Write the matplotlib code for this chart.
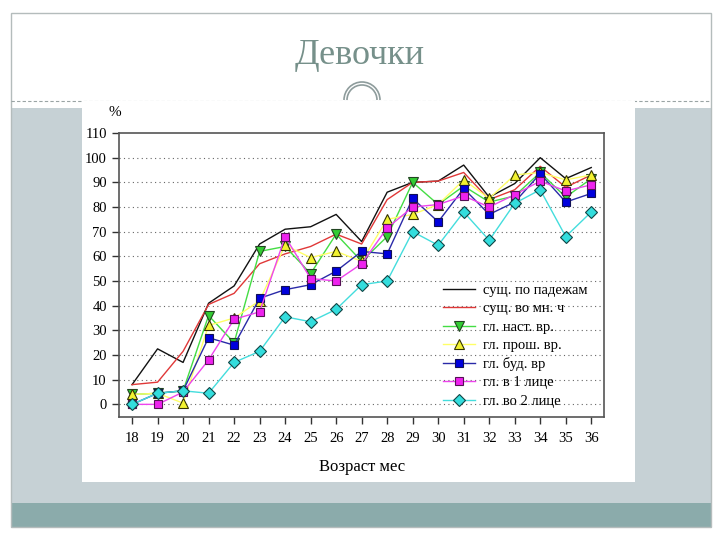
import matplotlib.pyplot as plt
from matplotlib.patches import Rectangle, Arc
from matplotlib.lines import Line2D

# months of age
months = list(range(18, 37))

# series values, %
nouns_cases = [8, 22.5, 17, 41, 48, 65, 71, 72, 77, 66, 86, 90, 90.5, 97, 84, 89.5, 100, 91.5, 96]
nouns_plural = [8, 9, 21.5, 40.5, 45, 57, 61, 64, 69, 65, 83, 90, 90.5, 94, 83, 87, 96.5, 88, 93]
verbs_present = [4, 4.5, 5.5, 36, 25, 62, 64, 53, 69, 58, 68, 90, 81, 88.5, 82, 84.5, 94, 84, 91.5]
verbs_past = [4, 4.5, 0.5, 32, 35, 42, 64.5, 59.5, 62, 58, 75, 77, 81, 91, 83.5, 93, 94, 91, 93]
verbs_future = [0, 4.5, 5.5, 27, 24, 43, 46.5, 48.5, 54, 62, 61, 83.5, 74, 87.5, 77, 82, 93.5, 82, 85.5]
verbs_1st = [0, 0, 5, 18, 34.5, 37.5, 68, 51, 50, 57, 71.5, 80, 81, 84.5, 80, 85, 90.5, 86.5, 89]
verbs_2nd = [0, 4.5, 5.5, 4.5, 17, 21.5, 35.5, 33.5, 38.5, 48.5, 50, 70, 64.5, 78, 66.5, 81.5, 87, 68, 78]

labels = ['сущ. по падежам', 'сущ. во мн. ч', 'гл. наст. вр.', 'гл. прош. вр.',
          'гл. буд. вр', 'гл. в 1 лице', 'гл. во 2 лице']

W, H = 720, 540
fig = plt.figure(figsize=(7.2, 5.4), dpi=100)
fig.patch.set_facecolor('white')


def box(x0, y0, x1, y1, **kw):
    # rectangle given in pixel coords (top-left origin)
    r = Rectangle((x0 / W, 1 - y1 / H), (x1 - x0) / W, (y1 - y0) / H,
                  transform=fig.transFigure, zorder=0, **kw)
    fig.add_artist(r)


# slide background
box(11, 108, 711, 504, facecolor='#c6d1d5', edgecolor='none')
box(11, 503, 711, 527, facecolor='#8babab', edgecolor='none')
box(11, 13, 711, 527, facecolor='none', edgecolor='#b4bcbc', linewidth=1)
fig.add_artist(Line2D([11 / W, 711 / W], [1 - 101 / H] * 2, transform=fig.transFigure,
                      color='#9aa4a4', linestyle=(0, (3, 2)), linewidth=0.8, zorder=0))
box(82, 101, 635, 482, facecolor='white', edgecolor='none')

fig.text(360 / W, 1 - 56 / H, 'Девочки', ha='center', va='center',
         family='Liberation Serif', fontsize=26, color='#76908a')
for r in (18, 15):
    fig.add_artist(Arc((362 / W, 1 - 100 / H), 2 * r / W, 2 * r / H, theta1=0, theta2=180,
                       transform=fig.transFigure, color='#8e9c9c', linewidth=1.2))

ax = fig.add_axes([119.3 / W, 1 - 416.7 / H, (604 - 119.3) / W, (416.7 - 133) / H])
ax.set_zorder(5)
ax.set_facecolor('white')

ax.plot(months, nouns_cases, color='#111111', lw=1.0, label=labels[0])
ax.plot(months, nouns_plural, color='#e03838', lw=1.0, label=labels[1])
ax.plot(months, verbs_present, color='#44dd44', lw=1.0, marker='v', ms=7,
        mfc='#33cc33', mec='#224422', mew=0.8, label=labels[2])
ax.plot(months, verbs_past, color='#ffff66', lw=1.0, marker='^', ms=7,
        mfc='#f2f230', mec='#333300', mew=0.8, label=labels[3])
ax.plot(months, verbs_future, color='#2a2aa8', lw=1.0, marker='s', ms=6,
        mfc='#0000dd', mec='#111155', mew=0.8, label=labels[4])
ax.plot(months, verbs_1st, color='#ee44ee', lw=1.0, marker='s', ms=6,
        mfc='#ee22ee', mec='#551155', mew=0.8, label=labels[5])
ax.plot(months, verbs_2nd, color='#44dddd', lw=1.0, marker='D', ms=6,
        mfc='#33dddd', mec='#114444', mew=0.8, label=labels[6])

ax.set_xlim(17.5, 36.5)
ax.set_ylim(-5, 110)
ax.set_xticks(months)
ax.set_yticks(range(0, 111, 10))
for y in range(0, 101, 10):
    ax.axhline(y, color='#666666', lw=0.8, linestyle=(0, (1, 3)), zorder=0)

for s in ax.spines.values():
    s.set_color('#555555')
    s.set_linewidth(1.2)
ax.tick_params(direction='out', length=5, width=1, color='#333333', labelsize=10.5,
               labelfontfamily='Liberation Serif')
ax.tick_params(axis='x', pad=6)
ax.tick_params(axis='y', pad=4)

ax.set_xlabel('Возраст мес', family='Liberation Serif', fontsize=12, labelpad=10)
fig.text(115 / W, 1 - 113 / H, '%', ha='center', va='center',
         family='Liberation Serif', fontsize=11)

leg = ax.legend(loc='lower right', bbox_to_anchor=(0.979, 0.011), frameon=False,
                prop={'family': 'Liberation Serif', 'size': 10.5},
                handlelength=2.2, labelspacing=0.35, borderaxespad=0, handletextpad=0.6)

fig.savefig('out.png', dpi=100)
